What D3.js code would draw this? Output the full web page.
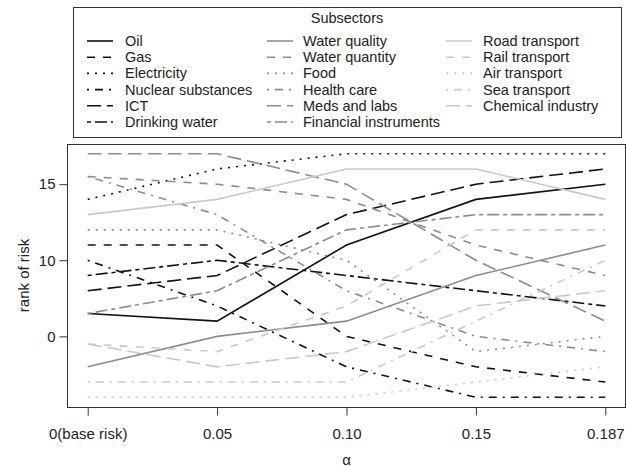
<!DOCTYPE html>
<html>
<head>
<meta charset="utf-8">
<script src="https://cdn.jsdelivr.net/npm/d3@7"></script>
<style>
body { margin: 0; background: #fff; }
svg { display: block; }
text { font-family: "Liberation Sans", Arial, Helvetica, sans-serif; fill: #222; }
</style>
</head>
<body>
<svg width="626" height="466"></svg>
<script>
// x categories and y ticks
var alphaLabels = ["0(base risk)", "0.05", "0.10", "0.15", "0.187"];
var yTicks = [5, 10, 15];
var yTickLabels = ["0", "10", "15"];

// rank of risk for each subsector at each alpha
var oil = [6.5, 6, 11, 14, 15];
var gas = [11, 11, 5, 3, 2];
var electricity = [14, 16, 17, 17, 17];
var nuclear = [10, 7, 3, 1, 1];
var ict = [8, 9, 13, 15, 16];
var drinkingWater = [9, 10, 9, 8, 7];
var waterQuality = [3, 5, 6, 9, 11];
var waterQuantity = [15.5, 15, 14, 11, 9];
var food = [12, 12, 10, 4, 5];
var healthCare = [15.5, 13, 8, 5, 4];
var medsLabs = [17, 17, 15, 10, 6];
var financial = [6.5, 8, 12, 13, 13];
var road = [13, 14, 16, 16, 14];
var rail = [4.5, 4, 7, 12, 12];
var air = [1, 1, 1, 2, 3];
var sea = [2, 2, 2, 6, 10];
var chemical = [4.5, 3, 4, 7, 8];

var names = ["Oil", "Gas", "Electricity", "Nuclear substances", "ICT", "Drinking water",
  "Water quality", "Water quantity", "Food", "Health care", "Meds and labs", "Financial instruments",
  "Road transport", "Rail transport", "Air transport", "Sea transport", "Chemical industry"];
var values = [oil, gas, electricity, nuclear, ict, drinkingWater,
  waterQuality, waterQuantity, food, healthCare, medsLabs, financial,
  road, rail, air, sea, chemical];

// R style line types and grey levels
var colors = ["#111111", "#8c8c8c", "#c9c9c9"];
var dashes = [null, "8,8", "2,6", "2,6,8,6", "14,6", "4,4,12,4"];

var series = names.map(function(n, i) {
  return {name: n, values: values[i], color: colors[Math.floor(i / 6)], dash: dashes[i % 6]};
});

var svg = d3.select('svg');

var plotLeft = 67, plotRight = 626, plotTop = 144, plotBottom = 407;

var x = d3.scalePoint().domain(alphaLabels).range([plotLeft, plotRight]).padding(0.16);
var y = d3.scaleLinear().domain([0.36, 17.64]).range([plotBottom, plotTop]);

var line = d3.line()
  .x(function(d, i) { return x(alphaLabels[i]); })
  .y(function(d) { return y(d); });

svg.append('g')
  .selectAll('path')
  .data(series)
  .enter()
  .append('path')
  .attr('d', function(d) { return line(d.values); })
  .attr('fill', 'none')
  .attr('stroke', function(d) { return d.color; })
  .attr('stroke-width', 1.6)
  .attr('stroke-dasharray', function(d) { return d.dash; });

// frame
svg.append('rect')
  .attr('x', plotLeft + 0.5)
  .attr('y', plotTop + 0.5)
  .attr('width', plotRight - plotLeft - 1)
  .attr('height', plotBottom - plotTop)
  .attr('fill', 'none')
  .attr('stroke', '#333')
  .attr('stroke-width', 1);

var xAxis = svg.append('g')
  .attr('transform', 'translate(0,' + (plotBottom + 0.5) + ')')
  .call(d3.axisBottom(x).tickSize(8).tickPadding(13));

var yAxis = svg.append('g')
  .attr('transform', 'translate(' + (plotLeft + 0.5) + ',0)')
  .call(d3.axisLeft(y).tickValues(yTicks).tickSize(8).tickPadding(4)
    .tickFormat(function(d, i) { return yTickLabels[i]; }));

[xAxis, yAxis].forEach(function(g) {
  g.select('.domain').remove();
  g.selectAll('line').attr('stroke', '#333');
  g.selectAll('text').attr('font-size', 15).attr('fill', '#222')
    .attr('font-family', '"Liberation Sans", Arial, sans-serif');
});

svg.append('text')
  .attr('transform', 'rotate(-90)')
  .attr('x', -(plotTop + plotBottom) / 2)
  .attr('y', 23)
  .attr('text-anchor', 'middle')
  .attr('dominant-baseline', 'central')
  .attr('font-size', 15)
  .text('rank of risk');

svg.append('text')
  .attr('x', (plotLeft + plotRight) / 2)
  .attr('y', 459)
  .attr('text-anchor', 'middle')
  .attr('dominant-baseline', 'central')
  .attr('font-size', 15)
  .text('α');

// legend
var legend = svg.append('g');

legend.append('rect')
  .attr('x', 73.5)
  .attr('y', 7.5)
  .attr('width', 548)
  .attr('height', 130)
  .attr('fill', '#fff')
  .attr('stroke', '#333');

legend.append('text')
  .attr('x', 347)
  .attr('y', 18)
  .attr('text-anchor', 'middle')
  .attr('dominant-baseline', 'central')
  .attr('font-size', 14.5)
  .text('Subsectors');

var colLine = [87, 267, 446];
var colText = [125, 303, 483];

var items = legend.selectAll('.item')
  .data(series)
  .enter()
  .append('g')
  .attr('class', 'item')
  .attr('transform', function(d, i) {
    return 'translate(0,' + (41 + (i % 6) * 16.2) + ')';
  });

items.append('line')
  .attr('x1', function(d, i) { return colLine[Math.floor(i / 6)]; })
  .attr('x2', function(d, i) { return colLine[Math.floor(i / 6)] + 26; })
  .attr('stroke', function(d) { return d.color; })
  .attr('stroke-width', 1.6)
  .attr('stroke-dasharray', function(d) { return d.dash; });

items.append('text')
  .attr('x', function(d, i) { return colText[Math.floor(i / 6)]; })
  .attr('dominant-baseline', 'central')
  .attr('font-size', 14.5)
  .text(function(d) { return d.name; });
</script>
</body>
</html>
